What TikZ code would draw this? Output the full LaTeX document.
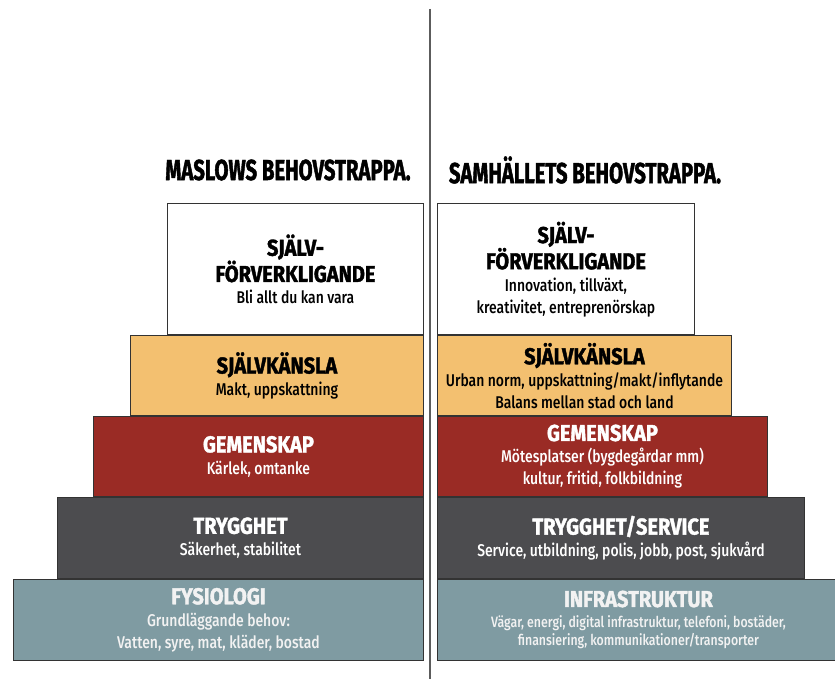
\documentclass[tikz,border=0pt]{standalone}
\usepackage{fontspec}
\setmainfont{Fira Sans}[FakeStretch=0.84]
\newfontfamily\stepsubfont{Fira Sans Medium}[FakeStretch=0.82]
\newfontfamily\stepheadfont{Fira Sans}[FakeStretch=0.87,UprightFont=*-Bold,FakeBold=1.6]
\newfontfamily\steptitlefont{Fira Sans}[FakeStretch=0.7,UprightFont=*-Bold,FakeBold=1.4]
\usepackage{xcolor}
\usetikzlibrary{positioning}
\definecolor{stepwhite}{HTML}{FFFFFF}
\definecolor{steporange}{HTML}{F3C070}
\definecolor{stepred}{HTML}{9A2B25}
\definecolor{stepgray}{HTML}{4C4C4F}
\definecolor{stepblue}{HTML}{7F9BA2}
\definecolor{stepline}{HTML}{333333}
\newcommand{\stephead}[1]{{\fontsize{23}{22}\stepheadfont #1}}

\begin{document}
\begin{tikzpicture}[x=1pt,y=-1pt,
  stepbox/.style={draw=stepline,line width=0.9pt,align=center,inner sep=0pt,
    font=\fontsize{17}{22}\stepsubfont},
  titletext/.style={font=\fontsize{29}{30}\steptitlefont,inner sep=0pt}]
\useasboundingbox (0,0) rectangle (835,679);
\draw[stepline!80,line width=1.3pt] (430,9) -- (430,679);
\node[titletext] (mTitle) at (288,170) {MASLOWS BEHOVSTRAPPA.};
\node[titletext] (sTitle) at (585,170) {SAMHÄLLETS BEHOVSTRAPPA.};
\node[stepbox,fill=stepblue,text=white!95!black,minimum width=410pt,minimum height=81pt,anchor=north west] (mFys) at (13,579)
  {\stephead{FYSIOLOGI}\\Grundläggande behov:\\Vatten, syre, mat, kläder, bostad};
\node[stepbox,fill=stepgray,text=white,minimum width=366pt,minimum height=81pt,anchor=south east] (mTrygg) at (mFys.north east)
  {\stephead{TRYGGHET}\\Säkerhet, stabilitet};
\node[stepbox,fill=stepred,text=white,minimum width=330pt,minimum height=80pt,anchor=south east] (mGem) at (mTrygg.north east)
  {\stephead{GEMENSKAP}\\Kärlek, omtanke};
\node[stepbox,fill=steporange,minimum width=293pt,minimum height=80pt,anchor=south east] (mKansla) at (mGem.north east)
  {\stephead{SJÄLVKÄNSLA}\\Makt, uppskattning};
\node[stepbox,fill=stepwhite,minimum width=256pt,minimum height=131pt,anchor=south east] (mTop) at (mKansla.north east)
  {\stephead{SJÄLV-}\\\stephead{FÖRVERKLIGANDE}\\Bli allt du kan vara};
\node[stepbox,fill=stepblue,text=white!95!black,minimum width=402pt,minimum height=81pt,anchor=north west,
  font=\fontsize{15}{18}\stepsubfont] (sInfra) at (437,579)
  {\stephead{INFRASTRUKTUR}\\[3pt]Vägar, energi, digital infrastruktur, telefoni, bostäder,\\finansiering, kommunikationer/transporter};
\node[stepbox,fill=stepgray,text=white,minimum width=367pt,minimum height=81pt,anchor=south west] (sTrygg) at (sInfra.north west)
  {\stephead{TRYGGHET/SERVICE}\\Service, utbildning, polis, jobb, post, sjukvård};
\node[stepbox,fill=stepred,text=white,minimum width=330pt,minimum height=80pt,anchor=south west] (sGem) at (sTrygg.north west)
  {\stephead{GEMENSKAP}\\Mötesplatser (bygdegårdar mm)\\kultur, fritid, folkbildning};
\node[stepbox,fill=steporange,minimum width=294pt,minimum height=80pt,anchor=south west] (sKansla) at (sGem.north west)
  {\stephead{SJÄLVKÄNSLA}\\Urban norm, uppskattning/makt/inflytande\\Balans mellan stad och land};
\node[stepbox,fill=stepwhite,minimum width=257pt,minimum height=131pt,anchor=south west] (sTop) at (sKansla.north west)
  {\stephead{SJÄLV-}\\\stephead{FÖRVERKLIGANDE}\\Innovation, tillväxt,\\kreativitet, entreprenörskap};
\end{tikzpicture}
\end{document}
